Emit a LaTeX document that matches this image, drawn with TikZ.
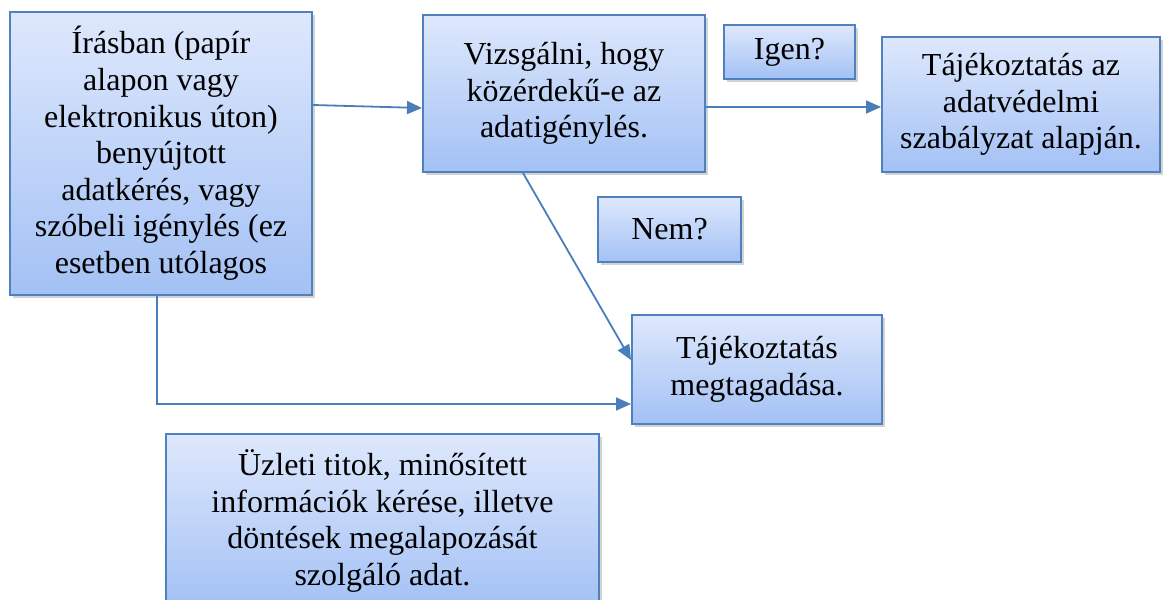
\documentclass[tikz,border=0pt]{standalone}
\usepackage{fontspec}
\setmainfont{Liberation Serif}
\usetikzlibrary{arrows.meta,shadows}
\definecolor{boxline}{RGB}{79,129,189}
\definecolor{boxtop}{RGB}{222,232,252}
\definecolor{boxbot}{RGB}{163,193,245}
\definecolor{arrline}{RGB}{74,126,187}
\tikzset{
  box/.style={draw=boxline, line width=1pt, top color=boxtop, bottom color=boxbot,
    align=center, inner sep=2pt, font=\fontsize{16}{18.3}\selectfont,
    drop shadow={shadow xshift=1.5pt, shadow yshift=-1.5pt, opacity=.35}},
  arr/.style={draw=arrline, line width=.9pt, -{Triangle[length=7.5pt,width=6.5pt]}}
}
\begin{document}
\begin{tikzpicture}[x=.5pt,y=-.5pt]
\clip (0,0) rectangle (1163,600);
\node (req) at (161,153.5) [box, minimum width=151pt, minimum height=141.5pt]
  {Írásban (papír\\alapon vagy\\elektronikus úton)\\benyújtott\\adatkérés, vagy\\szóbeli igénylés (ez\\esetben utólagos};
\node (check) at (564,93.5) [box, minimum width=141pt, minimum height=78.5pt]
  {Vizsgálni, hogy\\közérdekű-e az\\adatigénylés.};
\node (yes) at (789.5,52) [box, minimum width=65.5pt, minimum height=27pt] {Igen?};
\node (info) at (1021,104.5) [box, minimum width=139pt, minimum height=67.5pt]
  {Tájékoztatás az\\adatvédelmi\\szabályzat alapján.};
\node (no) at (669.5,229.5) [box, minimum width=71.5pt, minimum height=32.5pt] {Nem?};
\node (deny) at (757,369.5) [box, minimum width=125pt, minimum height=54.5pt]
  {Tájékoztatás\\megtagadása.};
\node (secret) at (382.5,521) [box, minimum width=216.5pt, minimum height=87pt]
  {Üzleti titok, minősített\\információk kérése, illetve\\döntések megalapozását\\szolgáló adat.};
\draw[arr] ([yshift=24.25pt]req.east) -- ([yshift=-7.25pt]check.west);
\draw[arr] ([yshift=-6.75pt]check.east) -- ([yshift=-1.25pt]info.west);
\draw[arr] ([xshift=-20.5pt]check.south) -- ([yshift=4.75pt]deny.west);
\draw[arr] ([xshift=-2pt]req.south) |- ([yshift=-17.25pt]deny.west);
\end{tikzpicture}
\end{document}
